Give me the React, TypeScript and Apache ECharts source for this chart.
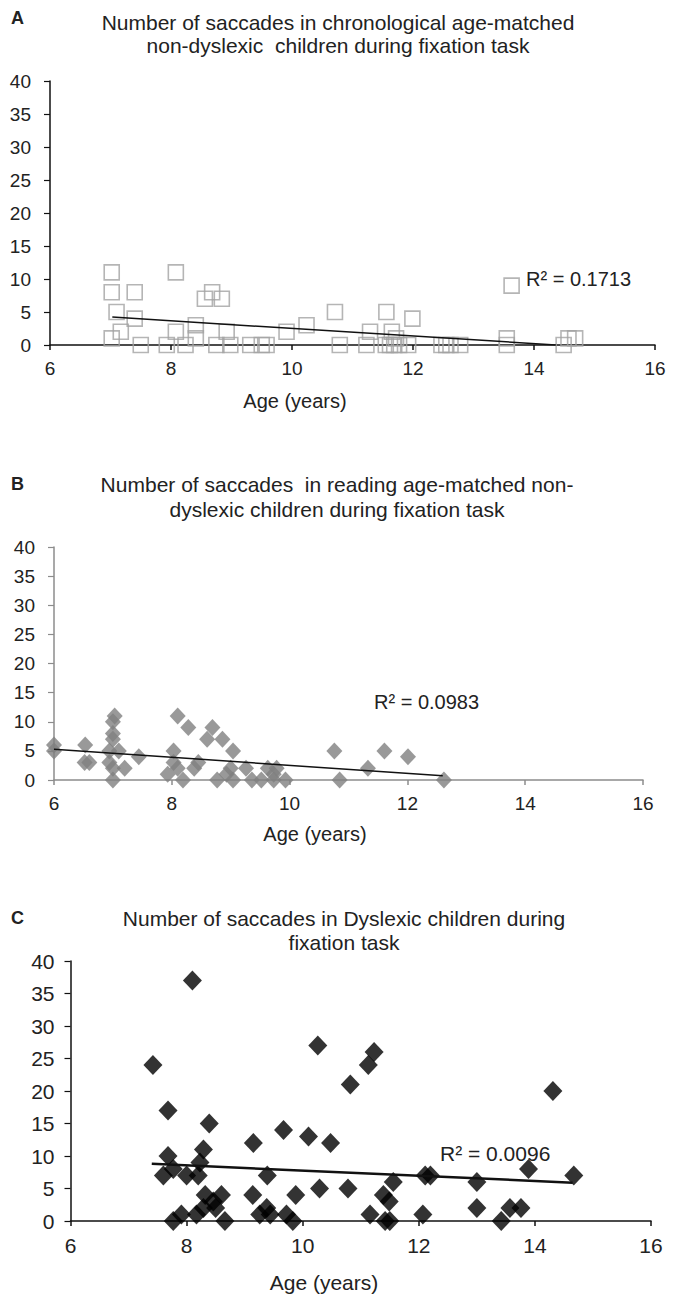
import React, { useEffect, useRef } from "react";
import * as echarts from "echarts";

// Panel A: chronological age-matched non-dyslexic children (age, saccades)
const ageA = [7.02, 7.02, 7.4, 7.1, 7.02, 7.17, 7.4, 7.5, 7.93, 8.08, 8.08, 8.24, 8.41, 8.41, 8.56, 8.68, 8.84, 8.75, 8.92, 8.98, 9.31, 9.5, 9.58, 9.91, 10.24, 10.71, 10.79, 11.23, 11.29, 11.56, 11.65, 11.72, 11.55, 11.62, 11.69, 11.77, 11.92, 11.99, 12.47, 12.55, 12.62, 12.78, 13.63, 13.55, 13.55, 14.49, 14.57, 14.68];
const sacA = [11, 8, 8, 5, 1, 2, 4, 0, 0, 11, 2, 0, 3, 1, 7, 8, 7, 0, 2, 0, 0, 0, 0, 2, 3, 5, 0, 0, 2, 5, 2, 1, 0, 0, 0, 0, 0, 4, 0, 0, 0, 0, 9, 1, 0, 0, 1, 1];
const trendA = [[7.03, 4.23], [14.36, 0]];

// Panel B: reading age-matched non-dyslexic children
const ageB = [6.0, 6.0, 6.53, 6.52, 6.6, 7.03, 7.0, 7.0, 7.0, 6.94, 6.94, 7.0, 7.0, 7.1, 7.2, 7.44, 8.03, 7.93, 8.03, 8.1, 8.19, 8.1, 8.28, 8.38, 8.45, 8.6, 8.69, 8.86, 8.77, 9.04, 9.0, 8.93, 9.04, 9.26, 9.36, 9.52, 9.63, 9.73, 9.78, 9.73, 9.93, 10.76, 10.85, 11.33, 11.61, 12.01, 12.62];
const sacB = [6, 5, 6, 3, 3, 11, 10, 8, 7, 5, 3, 2, 0, 5, 2, 4, 5, 1, 3, 2, 0, 11, 9, 2, 3, 7, 9, 7, 0, 5, 2, 1, 0, 2, 0, 0, 2, 1, 2, 0, 0, 5, 0, 2, 5, 4, 0];
const trendB = [[6.0, 5.26], [12.6, 0.74]];

// Panel C: dyslexic children
const ageC = [7.42, 7.68, 8.1, 8.39, 9.15, 9.67, 10.1, 10.48, 7.68, 8.29, 8.23, 7.6, 7.77, 8.0, 8.2, 9.39, 9.14, 9.88, 10.29, 10.78, 8.32, 8.46, 8.6, 8.5, 8.29, 8.17, 7.91, 7.77, 8.66, 9.26, 9.38, 9.44, 9.72, 9.83, 10.82, 14.31, 11.56, 11.39, 11.49, 11.16, 11.42, 11.5, 12.07, 12.11, 12.2, 13.0, 13.0, 13.42, 13.57, 13.76, 13.89, 14.67, 10.26, 11.23, 11.13];
const sacC = [24, 17, 37, 15, 12, 14, 13, 12, 10, 11, 9, 7, 8, 7, 7, 7, 4, 4, 5, 5, 4, 3, 4, 2, 2, 1, 1, 0, 0, 1, 2, 1, 1, 0, 21, 20, 6, 4, 3, 1, 0, 0, 1, 7, 7, 6, 2, 0, 2, 2, 8, 7, 27, 26, 24];
const trendC = [[7.4, 8.8], [14.65, 5.9]];

const xTicks = [6, 8, 10, 12, 14, 16];
const yTicks = [0, 5, 10, 15, 20, 25, 30, 35, 40];

const titlesA = ["Number of saccades in chronological age-matched", "non-dyslexic  children during fixation task"];
const titlesB = ["Number of saccades  in reading age-matched non-", "dyslexic children during fixation task"];
const titlesC = ["Number of saccades in Dyslexic children during", "fixation task"];
const r2Labels = ["R\u00b2 = 0.1713", "R\u00b2 = 0.0983", "R\u00b2 = 0.0096"];
const xName = "Age (years)";
const panelLetters = ["A", "B", "C"];

const FONT = "'Liberation Sans', Arial, Helvetica, sans-serif";
const TXT = "#222";

function zip(a: number[], b: number[]) {
  return a.map((v, i) => [v, b[i]]);
}

export default function App() {
  const ref = useRef<HTMLDivElement>(null);
  useEffect(() => {
    if (!ref.current) return;
    const chart = echarts.init(ref.current, undefined, { renderer: "svg" });
    const grids = [
      { left: 50, top: 81, width: 605, height: 264 },
      { left: 54, top: 547, width: 589, height: 233 },
      { left: 70.5, top: 961, width: 580.5, height: 260 },
    ];
    const axisColors = ["#111", "#8c8c8c", "#111"];
    const labelSizes = [19, 19, 21];
    const xAxes = grids.map((_, i) => ({
      type: "value",
      gridIndex: i,
      min: 6,
      max: 16,
      interval: 2,
      axisLine: { show: true, onZero: false, lineStyle: { color: axisColors[i], width: 1.5 } },
      axisTick: { show: true, length: 5, lineStyle: { color: axisColors[i], width: 1.5 } },
      splitLine: { show: false },
      axisLabel: {
        color: TXT,
        fontSize: labelSizes[i],
        fontFamily: FONT,
        margin: 14,
        formatter: (v: number) => (xTicks.includes(v) ? String(v) : ""),
      },
    }));
    const yAxes = grids.map((_, i) => ({
      type: "value",
      gridIndex: i,
      min: 0,
      max: 40,
      interval: 5,
      axisLine: { show: true, lineStyle: { color: axisColors[i], width: 1.5 } },
      axisTick: { show: true, length: 6, lineStyle: { color: axisColors[i], width: 1.2 } },
      splitLine: { show: false },
      axisLabel: {
        color: TXT,
        fontSize: labelSizes[i],
        fontFamily: FONT,
        margin: i === 2 ? 16 : 19,
        formatter: (v: number) => (yTicks.includes(v) ? String(v) : ""),
      },
    }));

    const trendStyle = (w: number) => ({ color: "#111", width: w });

    const series: any[] = [
      {
        type: "scatter",
        xAxisIndex: 0,
        yAxisIndex: 0,
        symbol: "rect",
        symbolSize: 15,
        itemStyle: { color: "rgba(255,255,255,0)", borderColor: "#a3a3a3", borderWidth: 1.6 },
        data: zip(ageA, sacA),
        z: 2,
      },
      {
        type: "line",
        xAxisIndex: 0,
        yAxisIndex: 0,
        showSymbol: false,
        lineStyle: trendStyle(1.5),
        data: trendA,
        silent: true,
        z: 3,
      },
      {
        type: "scatter",
        xAxisIndex: 1,
        yAxisIndex: 1,
        symbol: "diamond",
        symbolSize: [16, 17],
        itemStyle: { color: "#808080" },
        data: zip(ageB, sacB),
        z: 2,
      },
      {
        type: "line",
        xAxisIndex: 1,
        yAxisIndex: 1,
        showSymbol: false,
        lineStyle: trendStyle(1.5),
        data: trendB,
        silent: true,
        z: 3,
      },
      {
        type: "scatter",
        xAxisIndex: 2,
        yAxisIndex: 2,
        symbol: "diamond",
        symbolSize: [19, 20],
        itemStyle: { color: "#000" },
        data: zip(ageC, sacC),
        z: 2,
      },
      {
        type: "line",
        xAxisIndex: 2,
        yAxisIndex: 2,
        showSymbol: false,
        lineStyle: trendStyle(2.5),
        data: trendC,
        silent: true,
        z: 3,
      },
    ];

    const textEl = (text: string, x: number, y: number, size: number, align = "center", weight = "normal") => ({
      type: "text",
      x,
      y,
      style: {
        text,
        fill: TXT,
        font: `${weight} ${size}px ${FONT}`,
        textAlign: align,
        textVerticalAlign: "middle",
      },
    });

    const graphic: any[] = [
      textEl(panelLetters[0], 11, 18, 18, "left", "bold"),
      textEl(titlesA[0], 338, 22, 21),
      textEl(titlesA[1], 338, 45, 21),
      textEl(panelLetters[1], 11, 484, 18, "left", "bold"),
      textEl(titlesB[0], 337, 484, 21),
      textEl(titlesB[1], 337, 509, 21),
      textEl(panelLetters[2], 11, 918, 18, "left", "bold"),
      textEl(titlesC[0], 344, 918, 21),
      textEl(titlesC[1], 344, 942, 21),
      textEl(xName, 295, 401, 20),
      textEl(xName, 315, 834, 20),
      textEl(xName, 324, 1282, 21),
      textEl(r2Labels[0], 526, 279, 20, "left"),
      textEl(r2Labels[1], 374, 702, 20, "left"),
      textEl(r2Labels[2], 440, 1153, 21, "left"),
    ];

    chart.setOption({
      animation: false,
      backgroundColor: "#fff",
      grid: grids,
      xAxis: xAxes,
      yAxis: yAxes,
      series,
      graphic,
    });
    return () => chart.dispose();
  }, []);
  return (
    <div
      ref={ref}
      style={{ position: "absolute", left: 0, top: 0, width: 673, height: 1300 }}
    />
  );
}
